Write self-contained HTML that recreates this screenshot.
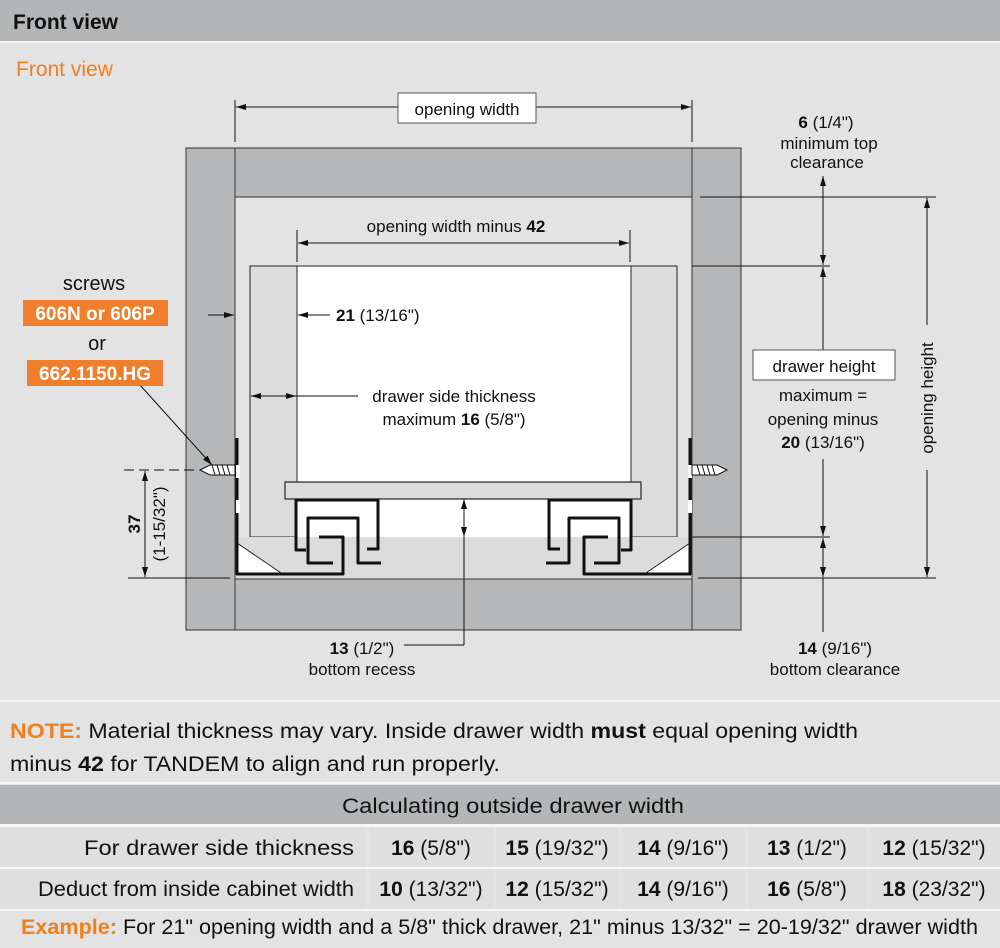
<!DOCTYPE html>
<html><head><meta charset="utf-8"><style>
html,body{margin:0;padding:0;background:#e3e3e4;}
svg{display:block;font-family:"Liberation Sans",sans-serif;}
</style></head><body>
<svg width="1000" height="948" viewBox="0 0 1000 948" xmlns="http://www.w3.org/2000/svg">
<defs>
<marker id="a" viewBox="0 0 10 6" refX="10" refY="3" markerWidth="10" markerHeight="6" orient="auto-start-reverse" markerUnits="userSpaceOnUse"><path d="M0,0 L10,3 L0,6 z" fill="#111"/></marker>
</defs>
<rect width="1000" height="948" fill="#e3e3e4"/>
<rect x="0" y="0" width="1000" height="41" fill="#b4b5b6"/>
<rect x="0" y="41" width="1000" height="2" fill="#f4f4f4"/>
<text x="13" y="29" font-size="21" font-weight="bold" fill="#111">Front view</text>
<text x="16" y="76" font-size="21" fill="#f07f1e">Front view</text>

<!-- cabinet -->
<g stroke="#333" stroke-width="1">
<rect x="186" y="148" width="49" height="482" fill="#b6b7b8"/>
<rect x="692" y="148" width="49" height="482" fill="#b6b7b8"/>
<rect x="235" y="148" width="457" height="49" fill="#b6b7b8"/>
<rect x="235" y="579" width="457" height="51" fill="#b6b7b8"/>
</g>
<!-- drawer -->
<rect x="250" y="266" width="427" height="271" fill="#dcdcdd" stroke="#222"/>
<rect x="297" y="266" width="334" height="271" fill="#fff" stroke="#222"/>
<rect x="297" y="498" width="334" height="39" fill="#fff"/>
<rect x="236" y="537" width="455" height="41" fill="#dcdcdd"/>
<rect x="285" y="482" width="356" height="17" fill="#dcdcdd" stroke="#222" stroke-width="1.2"/>
<!-- white triangles -->
<path d="M237,543 L284,575 L237,575z" fill="#fff" stroke="#222"/>
<path d="M690,543 L643,575 L690,575z" fill="#fff" stroke="#222"/>
<!-- runners -->
<g fill="none" stroke="#111" stroke-width="3" stroke-linejoin="round">
<path d="M237,438 L237,574 L343,574 L343,537 L319,537"/>
<path d="M306,550 L296,550 L296,500 L378,500 L378,549 L367,549"/>
<path d="M333,563 L308,563 L308,518 L358,518 L358,563 L381,563"/>
<path transform="translate(927,0) scale(-1,1)" d="M237,438 L237,574 L343,574 L343,537 L319,537"/>
<path transform="translate(927,0) scale(-1,1)" d="M306,550 L296,550 L296,500 L378,500 L378,549 L367,549"/>
<path transform="translate(927,0) scale(-1,1)" d="M333,563 L308,563 L308,518 L358,518 L358,563 L381,563"/>
</g>
<rect x="236" y="465" width="4" height="13" fill="#fff"/>
<rect x="236" y="500" width="4" height="13" fill="#fff"/>
<rect x="688" y="465" width="4" height="13" fill="#fff"/>
<rect x="688" y="500" width="4" height="13" fill="#fff"/>
<!-- screws -->
<g stroke="#111" stroke-width="1">
<path d="M200,470 L210,465 L235,465 L235,475 L210,475z" fill="#fff"/>
<path d="M212,465 l3,10 M217,465 l3,10 M222,465 l3,10 M227,465 l3,10" />
<path d="M727,470 L717,465 L692,465 L692,475 L717,475z" fill="#fff"/>
<path d="M697,465 l3,10 M702,465 l3,10 M707,465 l3,10 M712,465 l3,10"/>
</g>

<!-- dimension lines -->
<g stroke="#111" stroke-width="1" fill="none">
<line x1="235" y1="100" x2="235" y2="142"/><line x1="692" y1="100" x2="692" y2="142"/>
<line x1="236" y1="107" x2="398" y2="107" marker-start="url(#a)"/><line x1="536" y1="107" x2="691" y2="107" marker-end="url(#a)"/>
<line x1="297" y1="230" x2="297" y2="262"/><line x1="630" y1="230" x2="630" y2="262"/>
<line x1="298" y1="243" x2="629" y2="243" marker-start="url(#a)" marker-end="url(#a)"/>
<line x1="208" y1="315" x2="234" y2="315" marker-end="url(#a)"/>
<line x1="298" y1="315" x2="330" y2="315" marker-start="url(#a)"/>
<line x1="251" y1="396" x2="296" y2="396" marker-start="url(#a)" marker-end="url(#a)"/>
<line x1="296" y1="396" x2="358" y2="396"/>
<!-- screw leader -->
<line x1="140" y1="385" x2="212" y2="465" marker-end="url(#a)"/>
<!-- 37 -->
<line x1="124" y1="470" x2="195" y2="470" stroke-dasharray="10,5"/>
<line x1="128" y1="578" x2="230" y2="578"/>
<line x1="145" y1="471" x2="145" y2="577" marker-start="url(#a)" marker-end="url(#a)"/>
<!-- bottom recess -->
<line x1="464" y1="499" x2="464" y2="537" marker-start="url(#a)" marker-end="url(#a)"/>
<line x1="464" y1="537" x2="464" y2="645"/>
<line x1="464" y1="645" x2="404" y2="645"/>
<!-- right -->
<line x1="700" y1="197" x2="936" y2="197"/>
<line x1="692" y1="266" x2="830" y2="266"/>
<line x1="692" y1="537" x2="830" y2="537"/>
<line x1="698" y1="578" x2="936" y2="578"/>
<line x1="823" y1="176" x2="823" y2="265" marker-start="url(#a)" marker-end="url(#a)"/>
<line x1="823" y1="176" x2="823" y2="198" stroke="none"/>
<line x1="823" y1="267" x2="823" y2="350" marker-start="url(#a)"/>
<line x1="823" y1="459" x2="823" y2="536" marker-end="url(#a)"/>
<line x1="823" y1="538" x2="823" y2="577" marker-start="url(#a)" marker-end="url(#a)"/>
<line x1="823" y1="578" x2="823" y2="632"/>
<line x1="927" y1="198" x2="927" y2="325" marker-start="url(#a)"/>
<line x1="927" y1="470" x2="927" y2="577" marker-end="url(#a)"/>
</g>
<line x1="823" y1="176" x2="823" y2="197" stroke="#111"/>

<rect x="398" y="93" width="138" height="30" fill="#fff" stroke="#555"/>
<text x="467" y="115" font-size="17" text-anchor="middle" fill="#111">opening width</text>
<text x="456" y="232" font-size="17" text-anchor="middle" fill="#111">opening width minus <tspan font-weight="bold">42</tspan></text>
<text x="336" y="321" font-size="17" fill="#111"><tspan font-weight="bold">21</tspan> (13/16")</text>
<text x="454" y="402" font-size="17" text-anchor="middle" fill="#111">drawer side thickness</text>
<text x="454" y="425" font-size="17" text-anchor="middle" fill="#111">maximum <tspan font-weight="bold">16</tspan> (5/8")</text>

<text x="94" y="290" font-size="20" text-anchor="middle" fill="#111">screws</text>
<rect x="23" y="300" width="145" height="26" fill="#f07f2d"/>
<text x="95" y="320" font-size="19" font-weight="bold" text-anchor="middle" fill="#fff">606N or 606P</text>
<text x="97" y="350" font-size="20" text-anchor="middle" fill="#111">or</text>
<rect x="27" y="360" width="136" height="26" fill="#f07f2d"/>
<text x="95" y="380" font-size="19" font-weight="bold" text-anchor="middle" fill="#fff">662.1150.HG</text>
<text transform="translate(140,524) rotate(-90)" font-size="17" text-anchor="middle" fill="#111"><tspan font-weight="bold">37</tspan></text>
<text transform="translate(165,524) rotate(-90)" font-size="17" text-anchor="middle" fill="#111">(1-15/32")</text>

<text x="362" y="654" font-size="17" text-anchor="middle" fill="#111"><tspan font-weight="bold">13</tspan> (1/2")</text>
<text x="362" y="675" font-size="17" text-anchor="middle" fill="#111">bottom recess</text>
<text x="835" y="654" font-size="17" text-anchor="middle" fill="#111"><tspan font-weight="bold">14</tspan> (9/16")</text>
<text x="835" y="675" font-size="17" text-anchor="middle" fill="#111">bottom clearance</text>

<text x="826" y="128" font-size="17" text-anchor="middle" fill="#111"><tspan font-weight="bold">6</tspan> (1/4")</text>
<text x="829" y="149" font-size="17" text-anchor="middle" fill="#111">minimum top</text>
<text x="827" y="168" font-size="17" text-anchor="middle" fill="#111">clearance</text>
<rect x="753" y="350" width="142" height="30" fill="#fff" stroke="#555"/>
<text x="824" y="372" font-size="17" text-anchor="middle" fill="#111">drawer height</text>
<text x="823" y="401" font-size="17" text-anchor="middle" fill="#111">maximum =</text>
<text x="823" y="425" font-size="17" text-anchor="middle" fill="#111">opening minus</text>
<text x="823" y="448" font-size="17" text-anchor="middle" fill="#111"><tspan font-weight="bold">20</tspan> (13/16")</text>
<text transform="translate(933,398) rotate(-90)" font-size="17" text-anchor="middle" fill="#111">opening height</text>

<!-- note -->
<rect x="0" y="700" width="1000" height="2" fill="#f6f6f6"/>
<text x="10" y="738" font-size="21" fill="#111" textLength="848" lengthAdjust="spacingAndGlyphs"><tspan font-weight="bold" fill="#f07f1e">NOTE:</tspan> Material thickness may vary. Inside drawer width <tspan font-weight="bold">must</tspan> equal opening width</text>
<text x="10" y="771" font-size="21" fill="#111" textLength="490" lengthAdjust="spacingAndGlyphs">minus <tspan font-weight="bold">42</tspan> for TANDEM to align and run properly.</text>

<!-- table -->
<rect x="0" y="782" width="1000" height="2" fill="#f6f6f6"/>
<rect x="0" y="785" width="1000" height="39" fill="#b4b5b6"/>
<text x="513" y="813" font-size="21" text-anchor="middle" fill="#111" textLength="342" lengthAdjust="spacingAndGlyphs">Calculating outside drawer width</text>
<g fill="#dfdfe0">
<rect x="0" y="827" width="366" height="40"/><rect x="369" y="827" width="124" height="40"/><rect x="496" y="827" width="123" height="40"/><rect x="622" y="827" width="123" height="40"/><rect x="748" y="827" width="119" height="40"/><rect x="870" y="827" width="130" height="40"/>
<rect x="0" y="869" width="366" height="40"/><rect x="369" y="869" width="124" height="40"/><rect x="496" y="869" width="123" height="40"/><rect x="622" y="869" width="123" height="40"/><rect x="748" y="869" width="119" height="40"/><rect x="870" y="869" width="130" height="40"/>
</g>
<rect x="0" y="824" width="1000" height="3" fill="#f6f6f6"/>
<rect x="0" y="867" width="1000" height="2" fill="#f6f6f6"/>
<rect x="0" y="909" width="1000" height="2" fill="#f6f6f6"/>
<g font-size="21" fill="#111">
<text x="354" y="855" text-anchor="end" textLength="270" lengthAdjust="spacingAndGlyphs">For drawer side thickness</text>
<text x="354" y="896" text-anchor="end" textLength="316" lengthAdjust="spacingAndGlyphs">Deduct from inside cabinet width</text>
<text x="431" y="855" text-anchor="middle"><tspan font-weight="bold">16</tspan> (5/8")</text>
<text x="557" y="855" text-anchor="middle"><tspan font-weight="bold">15</tspan> (19/32")</text>
<text x="683" y="855" text-anchor="middle"><tspan font-weight="bold">14</tspan> (9/16")</text>
<text x="807" y="855" text-anchor="middle"><tspan font-weight="bold">13</tspan> (1/2")</text>
<text x="934" y="855" text-anchor="middle"><tspan font-weight="bold">12</tspan> (15/32")</text>
<text x="431" y="896" text-anchor="middle"><tspan font-weight="bold">10</tspan> (13/32")</text>
<text x="557" y="896" text-anchor="middle"><tspan font-weight="bold">12</tspan> (15/32")</text>
<text x="683" y="896" text-anchor="middle"><tspan font-weight="bold">14</tspan> (9/16")</text>
<text x="807" y="896" text-anchor="middle"><tspan font-weight="bold">16</tspan> (5/8")</text>
<text x="934" y="896" text-anchor="middle"><tspan font-weight="bold">18</tspan> (23/32")</text>
<text x="21" y="934" textLength="957" lengthAdjust="spacingAndGlyphs"><tspan font-weight="bold" fill="#f07f1e">Example:</tspan> For 21" opening width and a 5/8" thick drawer, 21" minus 13/32" = 20-19/32" drawer width</text>
</g>
</svg>
</body></html>
